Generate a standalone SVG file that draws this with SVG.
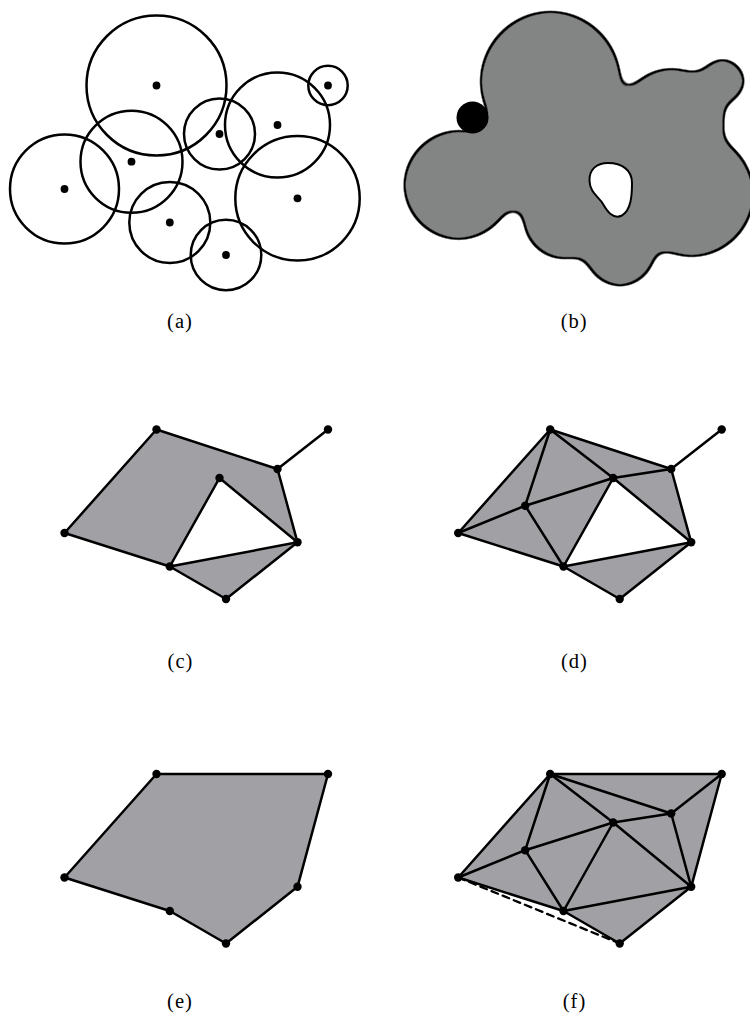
<svg xmlns="http://www.w3.org/2000/svg" xmlns:xlink="http://www.w3.org/1999/xlink" width="750" height="1025" viewBox="0 0 750 1025">
<style>
.ring{fill:none;stroke:#000;stroke-width:2.5}
.pt{fill:#000}
.e{stroke:#000;stroke-width:2.5;stroke-linecap:round;fill:none}
.dash{stroke:#000;stroke-width:2.3;stroke-dasharray:7 5;fill:none}
.sh{fill:#a1a0a5;stroke:none}
.lbl{font-family:"Liberation Serif","DejaVu Serif",serif;font-size:20.5px;letter-spacing:1px;fill:#000;text-anchor:middle}
</style>
<defs>
<g id="balls">
<circle cx="156.5" cy="85.5" r="70"/>
<circle cx="328" cy="85.5" r="19.7"/>
<circle cx="277.5" cy="125" r="52.5"/>
<circle cx="219.5" cy="134" r="35.5"/>
<circle cx="64.5" cy="189" r="54.5"/>
<circle cx="297.5" cy="198.3" r="62.2"/>
<circle cx="169.8" cy="222.5" r="40.5"/>
<circle cx="226" cy="255" r="35.3"/>
<circle cx="131.5" cy="161.7" r="51"/>
<path d="M131.5,161.7 L156.5,85.5 L219.5,134 L277.5,125 L297.5,198.3 L226,255 L169.8,222.5 Z"/>
</g>
<filter id="smooth" x="-10%" y="-10%" width="120%" height="120%" color-interpolation-filters="sRGB">
<feGaussianBlur in="SourceAlpha" stdDeviation="9" result="b"/>
<feComponentTransfer in="b" result="outer"><feFuncA type="linear" slope="16" intercept="-6.7"/></feComponentTransfer>
<feMorphology in="outer" operator="erode" radius="2" result="inner"/>
<feFlood flood-color="#838584" result="g"/>
<feComposite in="g" in2="inner" operator="in" result="gi"/>
<feFlood flood-color="#000" result="k"/>
<feComposite in="k" in2="outer" operator="in" result="ko"/>
<feMerge><feMergeNode in="ko"/><feMergeNode in="gi"/></feMerge>
</filter>
</defs>

<!-- (a) balls -->
<g id="panel-a">
<g id="a-A"><circle class="ring" cx="156.5" cy="85.5" r="70"/><circle class="pt" cx="156.5" cy="85.5" r="3.9"/></g>
<g id="a-B"><circle class="ring" cx="328" cy="85.5" r="19.7"/><circle class="pt" cx="328" cy="85.5" r="3.9"/></g>
<g id="a-C"><circle class="ring" cx="277.5" cy="125" r="52.5"/><circle class="pt" cx="277.5" cy="125" r="3.9"/></g>
<g id="a-D"><circle class="ring" cx="219.5" cy="134" r="35.5"/><circle class="pt" cx="219.5" cy="134" r="3.9"/></g>
<g id="a-E"><circle class="ring" cx="64.5" cy="189" r="54.5"/><circle class="pt" cx="64.5" cy="189" r="3.9"/></g>
<g id="a-F"><circle class="ring" cx="297.5" cy="198.3" r="62.2"/><circle class="pt" cx="297.5" cy="198.3" r="3.9"/></g>
<g id="a-G"><circle class="ring" cx="169.8" cy="222.5" r="40.5"/><circle class="pt" cx="169.8" cy="222.5" r="3.9"/></g>
<g id="a-H"><circle class="ring" cx="226" cy="255" r="35.3"/><circle class="pt" cx="226" cy="255" r="3.9"/></g>
<g id="a-J"><circle class="ring" cx="131.5" cy="161.7" r="51"/><circle class="pt" cx="131.5" cy="161.7" r="3.9"/></g>
</g>

<!-- (b) union -->
<g id="panel-b">
<g id="b-union" filter="url(#smooth)"><use xlink:href="#balls" href="#balls" transform="translate(394,-4)" fill="#000"/><circle cx="722.5" cy="81" r="22.5" fill="#000"/></g>
<path id="b-hole" d="M589.5,181 C589,170 596,163 608,163 C622,163 632,170 632,183 C632,196 631,210 622,215.5 C613,220 607,211 603,204 C599,197 590,193 589.5,181 Z" fill="#fff" stroke="#000" stroke-width="2"/>
<g id="b-ball"><circle cx="472.5" cy="117.5" r="16" fill="#000"/></g>
</g>

<!-- (c) -->
<g id="panel-c" transform="translate(0,344)">
<g id="c-faces">
<path class="sh" d="M156.5,85.5 L277.5,125 L297.5,198.3 L219.5,134 L169.8,222.5 L64.5,189 Z"/>
<path class="sh" d="M169.8,222.5 L297.5,198.3 L226,255 Z"/>
</g>
<g id="c-edges" class="e">
<line x1="156.5" y1="85.5" x2="277.5" y2="125"/>
<line x1="277.5" y1="125" x2="328" y2="85.5"/>
<line x1="277.5" y1="125" x2="297.5" y2="198.3"/>
<line x1="297.5" y1="198.3" x2="219.5" y2="134"/>
<line x1="219.5" y1="134" x2="169.8" y2="222.5"/>
<line x1="169.8" y1="222.5" x2="64.5" y2="189"/>
<line x1="64.5" y1="189" x2="156.5" y2="85.5"/>
<line x1="169.8" y1="222.5" x2="297.5" y2="198.3"/>
<line x1="297.5" y1="198.3" x2="226" y2="255"/>
<line x1="169.8" y1="222.5" x2="226" y2="255"/>
</g>
<g id="c-A"><circle class="pt" cx="156.5" cy="85.5" r="4.2"/></g>
<g id="c-B"><circle class="pt" cx="328" cy="85.5" r="4.2"/></g>
<g id="c-C"><circle class="pt" cx="277.5" cy="125" r="4.2"/></g>
<g id="c-D"><circle class="pt" cx="219.5" cy="134" r="4.2"/></g>
<g id="c-E"><circle class="pt" cx="64.5" cy="189" r="4.2"/></g>
<g id="c-F"><circle class="pt" cx="297.5" cy="198.3" r="4.2"/></g>
<g id="c-G"><circle class="pt" cx="169.8" cy="222.5" r="4.2"/></g>
<g id="c-H"><circle class="pt" cx="226" cy="255" r="4.2"/></g>
</g>

<!-- (d) -->
<g id="panel-d" transform="translate(393.7,344)">
<g id="d-faces">
<path class="sh" d="M156.5,85.5 L277.5,125 L297.5,198.3 L219.5,134 L169.8,222.5 L64.5,189 Z"/>
<path class="sh" d="M169.8,222.5 L297.5,198.3 L226,255 Z"/>
</g>
<g id="d-edges" class="e">
<line x1="156.5" y1="85.5" x2="277.5" y2="125"/>
<line x1="277.5" y1="125" x2="328" y2="85.5"/>
<line x1="156.5" y1="85.5" x2="219.5" y2="134"/>
<line x1="156.5" y1="85.5" x2="131.5" y2="161.7"/>
<line x1="156.5" y1="85.5" x2="64.5" y2="189"/>
<line x1="277.5" y1="125" x2="219.5" y2="134"/>
<line x1="277.5" y1="125" x2="297.5" y2="198.3"/>
<line x1="219.5" y1="134" x2="131.5" y2="161.7"/>
<line x1="219.5" y1="134" x2="169.8" y2="222.5"/>
<line x1="219.5" y1="134" x2="297.5" y2="198.3"/>
<line x1="131.5" y1="161.7" x2="64.5" y2="189"/>
<line x1="131.5" y1="161.7" x2="169.8" y2="222.5"/>
<line x1="64.5" y1="189" x2="169.8" y2="222.5"/>
<line x1="169.8" y1="222.5" x2="297.5" y2="198.3"/>
<line x1="169.8" y1="222.5" x2="226" y2="255"/>
<line x1="297.5" y1="198.3" x2="226" y2="255"/>
</g>
<g id="d-A"><circle class="pt" cx="156.5" cy="85.5" r="4.2"/></g>
<g id="d-B"><circle class="pt" cx="328" cy="85.5" r="4.2"/></g>
<g id="d-C"><circle class="pt" cx="277.5" cy="125" r="4.2"/></g>
<g id="d-D"><circle class="pt" cx="219.5" cy="134" r="4.2"/></g>
<g id="d-E"><circle class="pt" cx="64.5" cy="189" r="4.2"/></g>
<g id="d-F"><circle class="pt" cx="297.5" cy="198.3" r="4.2"/></g>
<g id="d-G"><circle class="pt" cx="169.8" cy="222.5" r="4.2"/></g>
<g id="d-H"><circle class="pt" cx="226" cy="255" r="4.2"/></g>
<g id="d-J"><circle class="pt" cx="131.5" cy="161.7" r="4.2"/></g>
</g>

<!-- (e) -->
<g id="panel-e" transform="translate(0,688.5)">
<g id="e-faces"><path class="sh" d="M156.5,85.5 L328,85.5 L297.5,198.3 L226,255 L169.8,222.5 L64.5,189 Z"/></g>
<g id="e-edges" class="e">
<line x1="156.5" y1="85.5" x2="328" y2="85.5"/>
<line x1="328" y1="85.5" x2="297.5" y2="198.3"/>
<line x1="297.5" y1="198.3" x2="226" y2="255"/>
<line x1="226" y1="255" x2="169.8" y2="222.5"/>
<line x1="169.8" y1="222.5" x2="64.5" y2="189"/>
<line x1="64.5" y1="189" x2="156.5" y2="85.5"/>
</g>
<g id="e-A"><circle class="pt" cx="156.5" cy="85.5" r="4.2"/></g>
<g id="e-B"><circle class="pt" cx="328" cy="85.5" r="4.2"/></g>
<g id="e-E"><circle class="pt" cx="64.5" cy="189" r="4.2"/></g>
<g id="e-F"><circle class="pt" cx="297.5" cy="198.3" r="4.2"/></g>
<g id="e-G"><circle class="pt" cx="169.8" cy="222.5" r="4.2"/></g>
<g id="e-H"><circle class="pt" cx="226" cy="255" r="4.2"/></g>
</g>

<!-- (f) -->
<g id="panel-f" transform="translate(393.7,688.5)">
<g id="f-faces"><path class="sh" d="M156.5,85.5 L328,85.5 L297.5,198.3 L226,255 L169.8,222.5 L64.5,189 Z"/></g>
<g id="f-edges" class="e">
<line x1="156.5" y1="85.5" x2="328" y2="85.5"/>
<line x1="328" y1="85.5" x2="277.5" y2="125"/>
<line x1="328" y1="85.5" x2="297.5" y2="198.3"/>
<line x1="156.5" y1="85.5" x2="277.5" y2="125"/>
<line x1="156.5" y1="85.5" x2="219.5" y2="134"/>
<line x1="156.5" y1="85.5" x2="131.5" y2="161.7"/>
<line x1="156.5" y1="85.5" x2="64.5" y2="189"/>
<line x1="277.5" y1="125" x2="219.5" y2="134"/>
<line x1="277.5" y1="125" x2="297.5" y2="198.3"/>
<line x1="219.5" y1="134" x2="131.5" y2="161.7"/>
<line x1="219.5" y1="134" x2="169.8" y2="222.5"/>
<line x1="219.5" y1="134" x2="297.5" y2="198.3"/>
<line x1="131.5" y1="161.7" x2="64.5" y2="189"/>
<line x1="131.5" y1="161.7" x2="169.8" y2="222.5"/>
<line x1="64.5" y1="189" x2="169.8" y2="222.5"/>
<line x1="169.8" y1="222.5" x2="297.5" y2="198.3"/>
<line x1="169.8" y1="222.5" x2="226" y2="255"/>
<line x1="297.5" y1="198.3" x2="226" y2="255"/>
<line class="dash" x1="64.5" y1="189" x2="226" y2="255"/>
</g>
<g id="f-A"><circle class="pt" cx="156.5" cy="85.5" r="4.2"/></g>
<g id="f-B"><circle class="pt" cx="328" cy="85.5" r="4.2"/></g>
<g id="f-C"><circle class="pt" cx="277.5" cy="125" r="4.2"/></g>
<g id="f-D"><circle class="pt" cx="219.5" cy="134" r="4.2"/></g>
<g id="f-E"><circle class="pt" cx="64.5" cy="189" r="4.2"/></g>
<g id="f-F"><circle class="pt" cx="297.5" cy="198.3" r="4.2"/></g>
<g id="f-G"><circle class="pt" cx="169.8" cy="222.5" r="4.2"/></g>
<g id="f-H"><circle class="pt" cx="226" cy="255" r="4.2"/></g>
<g id="f-J"><circle class="pt" cx="131.5" cy="161.7" r="4.2"/></g>
</g>

<g id="labels">
<text class="lbl" x="180" y="327.5">(a)</text>
<text class="lbl" x="574.2" y="327.5">(b)</text>
<text class="lbl" x="180.5" y="668">(c)</text>
<text class="lbl" x="574.5" y="668">(d)</text>
<text class="lbl" x="180" y="1007.5">(e)</text>
<text class="lbl" x="574.5" y="1007.5">(f)</text>
</g>
</svg>
